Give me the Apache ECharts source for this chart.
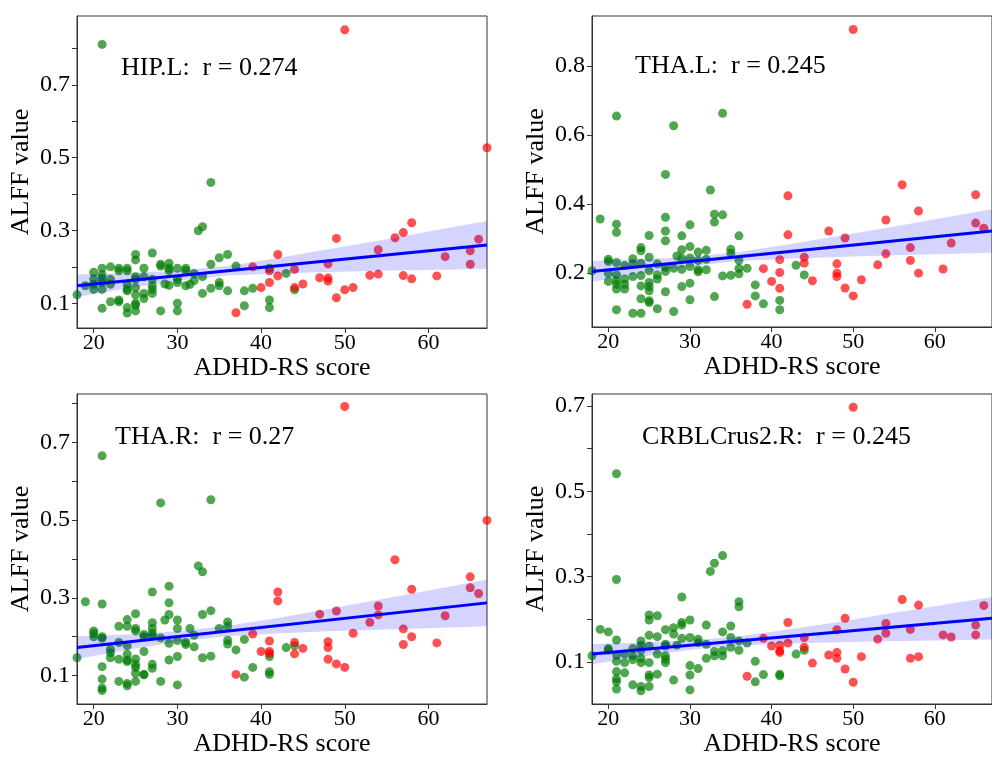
<!DOCTYPE html>
<html>
<head>
<meta charset="utf-8">
<script src="https://cdn.jsdelivr.net/npm/echarts@6/dist/echarts.min.js"></script>
<style>
html,body{margin:0;padding:0;background:#fff;}
#chart{width:992px;height:758px;}
</style>
</head>
<body>
<div id="chart"></div>
<script>
// ---------- data ----------
const xTicks = [20, 30, 40, 50, 60];
const xRange = [18, 67];

const panelTitles = ['HIP.L:  r = 0.274', 'THA.L:  r = 0.245', 'THA.R:  r = 0.27', 'CRBLCrus2.R:  r = 0.245'];

const hipGreen = [[21,0.811],[34,0.432],[32.5,0.299],[33,0.31],[27,0.238],[25,0.234],[25,0.219],[35,0.225],[36,0.234],[37,0.202],[34,0.207],[28,0.207],[28,0.202],[29,0.21],[29,0.196],[29,0.19],[30,0.196],[31,0.196],[31,0.19],[32,0.182],[33,0.173],[22,0.2],[23,0.196],[23,0.189],[24,0.196],[24,0.189],[26,0.196],[21,0.196],[21,0.178],[21,0.168],[21,0.157],[21,0.138],[21,0.086],[20,0.185],[20,0.166],[20,0.152],[20,0.138],[19,0.148],[18,0.123],[22,0.166],[22,0.152],[22,0.104],[23,0.109],[23,0.104],[24,0.152],[24,0.138],[24,0.134],[24,0.088],[24,0.073],[25,0.173],[25,0.166],[25,0.143],[25,0.123],[25,0.1],[25,0.095],[25,0.079],[26,0.173],[26,0.127],[26,0.113],[27,0.166],[27,0.148],[27,0.138],[27,0.127],[28,0.079],[28.5,0.153],[29,0.149],[30,0.166],[30,0.157],[30,0.1],[30,0.079],[31,0.148],[31.5,0.152],[32,0.162],[33,0.127],[34,0.141],[35,0.157],[35,0.148],[36,0.134],[38,0.134],[38,0.093],[39,0.141],[41,0.196],[41,0.109],[41,0.088],[43,0.182],[44,0.137]];
const hipRed = [[37,0.074],[39,0.2],[40,0.143],[41,0.189],[41,0.157],[42,0.234],[42,0.175],[50,0.851],[67,0.527],[58,0.321],[57,0.294],[56,0.28],[49,0.278],[66,0.276],[65,0.244],[65,0.207],[54,0.247],[62,0.228],[48,0.208],[44,0.193],[47,0.17],[48,0.169],[48,0.161],[53,0.177],[54,0.18],[57,0.176],[58,0.167],[61,0.175],[44,0.143],[45,0.153],[50,0.137],[51,0.143],[49,0.115]];

const thalGreen = [[21,0.655],[34,0.663],[28,0.627],[27,0.486],[32.5,0.441],[33,0.371],[34,0.369],[33,0.348],[19,0.357],[21,0.342],[21,0.318],[27,0.362],[27,0.322],[27,0.294],[30,0.34],[25,0.309],[29,0.308],[36,0.308],[24,0.274],[24,0.265],[29,0.268],[30,0.277],[31,0.261],[32,0.266],[35,0.269],[35,0.258],[20,0.24],[20,0.234],[23,0.242],[25,0.246],[28.4,0.25],[29,0.243],[30,0.244],[21,0.231],[22,0.222],[23,0.227],[24,0.229],[26,0.227],[31,0.237],[32,0.24],[36,0.237],[18,0.207],[20,0.2],[21,0.195],[21,0.179],[21,0.168],[21,0.154],[22,0.183],[22,0.168],[22,0.154],[20,0.176],[23,0.19],[24,0.193],[24,0.163],[24,0.126],[24,0.084],[25,0.207],[25,0.173],[25,0.161],[25,0.149],[25,0.12],[25,0.115],[26,0.195],[26,0.183],[26,0.097],[27,0.217],[27,0.205],[27,0.146],[28,0.214],[28,0.089],[29,0.211],[29,0.161],[30,0.219],[30,0.171],[30,0.123],[31,0.21],[31,0.204],[32,0.21],[33,0.132],[34,0.192],[35,0.194],[36,0.214],[36,0.198],[37,0.214],[38,0.166],[38,0.134],[39,0.111],[21,0.094],[23,0.084],[43,0.223],[44,0.195],[41,0.121],[41,0.094]];
const thalRed = [[37,0.11],[39,0.213],[40,0.176],[50,0.906],[56,0.456],[65,0.427],[42,0.424],[58,0.38],[54,0.354],[65,0.345],[66,0.33],[42,0.311],[47,0.322],[49,0.302],[62,0.287],[57,0.274],[54,0.256],[41,0.239],[41,0.202],[41,0.156],[44,0.246],[44,0.229],[48,0.227],[48,0.2],[48,0.19],[53,0.224],[57,0.237],[61,0.212],[58,0.2],[45,0.178],[51,0.181],[49,0.157],[50,0.134]];

const tharGreen = [[21,0.665],[28,0.544],[34,0.552],[32.5,0.382],[33,0.367],[27,0.315],[29,0.33],[19,0.29],[21,0.284],[29,0.287],[34,0.267],[25,0.259],[29,0.257],[33,0.257],[28.5,0.243],[27,0.236],[30,0.243],[24,0.244],[23,0.227],[24,0.227],[25,0.221],[25,0.215],[20,0.215],[20,0.209],[20,0.2],[27,0.221],[27,0.209],[27,0.202],[30,0.221],[31.5,0.221],[35,0.221],[36,0.238],[36,0.227],[26,0.206],[28,0.197],[21,0.2],[21,0.196],[22,0.168],[22,0.159],[22,0.146],[23,0.185],[23,0.142],[24,0.177],[24,0.155],[24,0.14],[24,0.136],[25,0.143],[25,0.129],[25,0.121],[25,0.106],[26,0.2],[26,0.162],[26,0.103],[27,0.129],[27,0.119],[28,0.085],[29,0.183],[29,0.14],[30,0.19],[30,0.149],[30,0.076],[31,0.185],[31,0.18],[32,0.204],[32,0.174],[33,0.146],[34,0.15],[36,0.191],[36,0.181],[37,0.166],[38,0.193],[38,0.096],[39,0.121],[41,0.149],[41,0.11],[41,0.103],[43,0.172],[18,0.146],[21,0.123],[21,0.091],[21,0.068],[21,0.062],[23,0.085],[24,0.08],[24,0.074],[25,0.085],[26,0.102],[44,0.177]];
const tharRed = [[42,0.315],[42,0.292],[39,0.207],[41,0.189],[40,0.162],[41,0.162],[41,0.157],[37,0.103],[50,0.792],[67,0.499],[56,0.398],[65,0.354],[65,0.326],[66,0.311],[58,0.322],[54,0.279],[54,0.256],[49,0.266],[47,0.258],[62,0.254],[53,0.237],[51,0.209],[57,0.22],[58,0.2],[57,0.18],[61,0.184],[48,0.187],[48,0.172],[48,0.142],[49,0.13],[50,0.121],[44,0.185],[44,0.156],[45,0.17]];

const crblGreen = [[21,0.541],[21,0.293],[34,0.349],[33,0.331],[32.5,0.312],[29,0.252],[36,0.241],[36,0.229],[25,0.21],[25,0.198],[26,0.208],[30,0.198],[29,0.192],[29,0.186],[19,0.176],[20,0.17],[28,0.18],[28,0.165],[32,0.186],[35,0.184],[27,0.175],[34,0.17],[25,0.162],[26,0.159],[21,0.151],[24,0.149],[29,0.155],[30,0.157],[31,0.153],[35,0.157],[36,0.149],[37,0.144],[20,0.131],[20,0.127],[23,0.131],[24,0.139],[24,0.127],[25,0.137],[27,0.141],[27,0.137],[28.4,0.139],[31,0.145],[32,0.141],[34,0.126],[33,0.124],[33,0.114],[35,0.134],[36,0.127],[18,0.114],[21,0.116],[21,0.101],[21,0.077],[21,0.06],[21,0.053],[21,0.036],[22,0.118],[22,0.098],[22,0.074],[23,0.114],[23,0.105],[23,0.046],[24,0.108],[24,0.098],[24,0.042],[24,0.032],[25,0.098],[25,0.069],[25,0.063],[25,0.042],[26,0.118],[26,0.071],[27,0.114],[27,0.106],[27,0.098],[28,0.057],[30,0.091],[30,0.069],[30,0.034],[31,0.084],[32,0.108],[34,0.114],[38,0.101],[38,0.053],[39,0.07],[44,0.127],[43,0.118],[41,0.071],[41,0.067]];
const crblRed = [[37,0.066],[39,0.155],[40,0.137],[50,0.697],[56,0.246],[58,0.233],[42,0.192],[49,0.202],[48,0.175],[54,0.19],[54,0.167],[57,0.176],[65,0.186],[65,0.163],[66,0.232],[61,0.163],[62,0.158],[44,0.157],[53,0.153],[41,0.139],[41,0.126],[41,0.122],[42,0.144],[44,0.134],[47,0.116],[48,0.122],[48,0.108],[51,0.112],[57,0.108],[58,0.112],[45,0.097],[49,0.083],[50,0.052]];

// regression lines (end points) and confidence bands
const fitX = [18, 67];
const hipFit = [0.148, 0.260];
const thalFit = [0.205, 0.322];
const tharFit = [0.172, 0.287];
const crblFit = [0.118, 0.202];

const ciX = [18, 24, 30, 36, 42, 48, 54, 60, 67];
const hipLow  = [0.117, 0.141, 0.162, 0.176, 0.182, 0.186, 0.189, 0.191, 0.194];
const hipHigh = [0.179, 0.183, 0.189, 0.202, 0.224, 0.248, 0.272, 0.297, 0.326];
const thalLow  = [0.175, 0.199, 0.220, 0.235, 0.242, 0.247, 0.251, 0.255, 0.259];
const thalHigh = [0.235, 0.240, 0.247, 0.261, 0.283, 0.307, 0.331, 0.356, 0.385];
const tharLow  = [0.143, 0.166, 0.187, 0.201, 0.208, 0.214, 0.218, 0.222, 0.227];
const tharHigh = [0.201, 0.206, 0.214, 0.228, 0.248, 0.271, 0.295, 0.319, 0.347];
const crblLow  = [0.094, 0.112, 0.128, 0.138, 0.143, 0.146, 0.148, 0.150, 0.152];
const crblHigh = [0.142, 0.145, 0.150, 0.160, 0.176, 0.193, 0.212, 0.230, 0.252];

// y-axis ranges and ticks
const yRanges = [[0.032, 0.889], [0.044, 0.945], [0.027, 0.824], [0.001, 0.728]];
const yTickSets = [
  [0.1, 0.2, 0.3, 0.4, 0.5, 0.6, 0.7, 0.8],
  [0.2, 0.4, 0.6, 0.8],
  [0.1, 0.2, 0.3, 0.4, 0.5, 0.6, 0.7, 0.8],
  [0.0, 0.1, 0.2, 0.3, 0.4, 0.5, 0.6, 0.7]
];
const yLabelSets = [
  [0.1, 0.3, 0.5, 0.7],
  [0.2, 0.4, 0.6, 0.8],
  [0.1, 0.3, 0.5, 0.7],
  [0.1, 0.3, 0.5, 0.7]
];

// ---------- chart ----------
const FONT = '"Liberation Serif", "Times New Roman", serif';
const GREEN = 'rgba(0,125,0,0.85)';
const RED = 'rgba(255,0,0,0.85)';

const greens = [hipGreen, thalGreen, tharGreen, crblGreen];
const reds = [hipRed, thalRed, tharRed, crblRed];
const fits = [hipFit, thalFit, tharFit, crblFit];
const lows = [hipLow, thalLow, tharLow, crblLow];
const highs = [hipHigh, thalHigh, tharHigh, crblHigh];

const grids = [
  {left: 77, top: 16, width: 410, height: 312},
  {left: 592, top: 16, width: 409, height: 311},
  {left: 77, top: 394, width: 410, height: 312},
  {left: 592, top: 394, width: 409, height: 311}
];
const titlePos = [[121, 68], [635, 66], [115, 437], [642, 437]];

const option = {
  animation: false,
  backgroundColor: '#fff',
  grid: grids.map(g => Object.assign({show: true, borderColor: '#333', borderWidth: 1, backgroundColor: 'transparent', containLabel: false}, g)),
  xAxis: grids.map((g, i) => ({
    type: 'value', gridIndex: i, min: xRange[0], max: xRange[1],
    name: 'ADHD-RS score', nameLocation: 'middle', nameGap: 27,
    nameTextStyle: {fontFamily: FONT, fontSize: 26, color: '#000'},
    axisLine: {show: true, onZero: false, lineStyle: {color: '#333', width: 1}},
    axisTick: {show: true, inside: false, length: 5, lineStyle: {color: '#333'}, customValues: xTicks},
    axisLabel: {show: true, fontFamily: FONT, fontSize: 22, color: '#000', margin: 4, customValues: xTicks},
    splitLine: {show: false}
  })),
  yAxis: grids.map((g, i) => ({
    type: 'value', gridIndex: i, min: yRanges[i][0], max: yRanges[i][1],
    name: 'ALFF value', nameLocation: 'middle', nameGap: 43,
    nameTextStyle: {fontFamily: FONT, fontSize: 26, color: '#000'},
    axisLine: {show: true, onZero: false, lineStyle: {color: '#333', width: 1}},
    axisTick: {show: true, inside: false, length: 5, lineStyle: {color: '#333'}, customValues: yTickSets[i]},
    axisLabel: {show: true, fontFamily: FONT, fontSize: 24, color: '#000', margin: 7,
      customValues: yLabelSets[i], formatter: v => v.toFixed(1)},
    splitLine: {show: false}
  })),
  graphic: panelTitles.map((t, i) => ({
    type: 'text', x: titlePos[i][0], y: titlePos[i][1], z: 100,
    style: {text: t, font: '26px ' + FONT, fill: '#000', verticalAlign: 'middle', align: 'left'}
  })),
  series: []
};

for (let i = 0; i < 4; i++) {
  option.series.push({
    type: 'scatter', xAxisIndex: i, yAxisIndex: i, data: greens[i], symbolSize: 9, z: 2,
    itemStyle: {color: GREEN}, clip: true
  });
  option.series.push({
    type: 'scatter', xAxisIndex: i, yAxisIndex: i, data: reds[i], symbolSize: 9, z: 2,
    itemStyle: {color: RED}, clip: true
  });
  const lo = lows[i], hi = highs[i];
  option.series.push({
    type: 'custom', xAxisIndex: i, yAxisIndex: i, z: 3, clip: true,
    data: [[ciX[0], lo[0]]],
    renderItem: function (params, api) {
      const pts = [];
      for (let k = 0; k < ciX.length; k++) pts.push(api.coord([ciX[k], hi[k]]));
      for (let k = ciX.length - 1; k >= 0; k--) pts.push(api.coord([ciX[k], lo[k]]));
      return {type: 'polygon', shape: {points: pts}, style: {fill: 'rgba(0,0,255,0.17)'}};
    }
  });
  option.series.push({
    type: 'line', xAxisIndex: i, yAxisIndex: i, z: 4, showSymbol: false, symbol: 'none',
    data: [[fitX[0], fits[i][0]], [fitX[1], fits[i][1]]],
    lineStyle: {color: '#0000ff', width: 3}
  });
}

const chart = echarts.init(document.getElementById('chart'), null, {renderer: 'canvas'});
chart.setOption(option);
</script>
</body>
</html>
